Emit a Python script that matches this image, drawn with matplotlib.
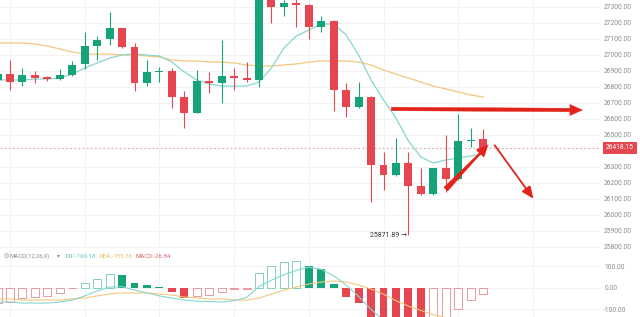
import numpy as np
import matplotlib
matplotlib.use("Agg")
import matplotlib.pyplot as plt
from matplotlib.transforms import blended_transform_factory

plt.rcParams['font.family'] = ['Roboto', 'DejaVu Sans']

# ---- candle data (index -1 is the partially visible first bar) ----
idx = list(range(-1, 39))
opens = [26842, 26879, 26829, 26873, 26861, 26848, 26873, 26942, 27054, 27098,
         27167, 27048, 26823, 26892, 26898, 26736, 26636, 26836, 26823, 26867,
         26854, 26842, 27340, 27298, 27323, 27311, 27173, 27211, 26779, 26673,
         26736, 26311, 26248, 26323, 26179, 26129, 26292, 26223, 26461, 26473]
highs = [26904, 26967, 26917, 26898, 26867, 26911, 26961, 27142, 27117, 27267,
         27170, 27073, 26967, 26923, 26917, 26773, 26904, 26892, 27092, 26917,
         26954, 27380, 27380, 27345, 27350, 27315, 27242, 27215, 26823, 26829,
         26740, 26392, 26479, 26392, 26292, 26295, 26498, 26629, 26542, 26536]
lows = [26817, 26779, 26804, 26823, 26836, 26842, 26867, 26911, 26967, 27061,
        27045, 26773, 26804, 26829, 26667, 26542, 26636, 26761, 26698, 26779,
        26829, 26798, 27198, 27242, 27173, 27098, 27142, 26648, 26611, 26670,
        26079, 26154, 26245, 25871.89, 26125, 26125, 26142, 26220, 26423, 26415]
closes = [26879, 26829, 26873, 26854, 26848, 26873, 26936, 27054, 27092, 27167,
          27048, 26823, 26892, 26898, 26736, 26636, 26836, 26823, 26867, 26854,
          26842, 27340, 27298, 27323, 27311, 27173, 27211, 26779, 26673, 26736,
          26311, 26248, 26323, 26179, 26129, 26292, 26223, 26461, 26467, 26418.15]

ma_fast = [26842, 26842, 26842, 26848, 26848, 26854, 26879, 26917, 26948, 26979,
           26998, 27004, 26998, 26992, 26954, 26892, 26842, 26817, 26804, 26804,
           26804, 26829, 26917, 27042, 27117, 27154, 27192, 27192, 27123, 26998,
           26842, 26717, 26604, 26461, 26361, 26323, 26342, 26354, 26367, 26379]
ma_slow = [27073, 27073, 27073, 27067, 27054, 27036, 27017, 27004, 27004, 27004,
           26998, 26998, 26992, 26986, 26967, 26961, 26961, 26954, 26954, 26948,
           26936, 26929, 26929, 26936, 26942, 26954, 26961, 26961, 26961, 26954,
           26936, 26904, 26879, 26854, 26829, 26804, 26786, 26767, 26748, 26736]

# ---- MACD(12,26,9) ----
macd_hist = [-70, -65, -49, -41, -37, -26, -3, 20, 40, 63,
             58, 23, 12, 4, -21, -49, -38, -34, -18, -7,
             -5, 66, 99, 120, 123, 100, 86, 16, -41, -72,
             -150, -185, -205, -225, -235, -200, -150, -97, -55, -26.84]
dif = [-66, -66, -71, -71, -71, -66, -57, -38, -15, 3,
       5, -11, -24, -38, -48, -57, -62, -64, -66, -60,
       -45, 5, 35, 60, 80, 95, 85, 55, 12, -40,
       -100, -150, -195, -235, -262, -268, -255, -222, -192, -169.18]
dea = [-52, -52, -57, -57, -57, -57, -52, -48, -38, -29,
       -24, -24, -24, -29, -34, -43, -48, -52, -52, -57,
       -57, -48, -29, -11, 3, 17, 26, 31, 26, 12,
       -6, -30, -60, -85, -105, -125, -138, -148, -153, -155.76]

price_ticks = [27300, 27200, 27100, 27000, 26900, 26800, 26700, 26600, 26500,
               26300, 26200, 26100, 26000, 25900, 25800]
macd_ticks = [100, 0, -100]
last_price = 26418.15
low_price = 25871.89

GREEN = '#16a37a'
RED = '#e5464f'
TEAL = '#86d6d0'
ORANGE = '#f4c77c'
ARROW = '#e2231a'
TXT = '#8a8a8a'

W, H = 640, 317
fig = plt.figure(figsize=(W / 100, H / 100), dpi=100)
fig.patch.set_facecolor('white')

x_left, x_right = -10 / 12.45, 590 / 12.45
ax = fig.add_axes([0, (H - 248) / H, 600 / W, 248 / H])
axm = fig.add_axes([0, 0, 600 / W, (H - 250) / H])

x = np.array(idx, dtype=float)
o = np.array(opens, dtype=float)
c = np.array(closes, dtype=float)
hi = np.array(highs, dtype=float)
lo = np.array(lows, dtype=float)
up = c >= o
cols = np.where(up, GREEN, RED)

for a in (ax, axm):
    a.set_xlim(x_left, x_right)
    for s in a.spines.values():
        s.set_visible(False)
    a.yaxis.tick_right()
    a.tick_params(axis='y', length=0, pad=3, labelsize=4.8, labelcolor=TXT)
    a.tick_params(axis='x', length=0, labelbottom=False)
    a.set_xticks(np.arange(0, 48, 6))
    a.grid(True, color='#f2f2f2', lw=0.7)
    a.set_axisbelow(True)

ax.set_ylim(25791.9, 27341.9)
ax.set_yticks(price_ticks)
ax.set_yticklabels([f"{t:.2f}" for t in price_ticks])

# moving averages
ax.plot(x, ma_slow, color=ORANGE, lw=0.9, zorder=2)
ax.plot(x, ma_fast, color=TEAL, lw=0.9, zorder=2)

# candles
ax.vlines(x, lo, hi, colors=cols, lw=0.8, zorder=3)
body = c - o
body = np.where(np.abs(body) < 8, np.where(up, 8, -8), body)
ax.bar(x, body, bottom=o, width=0.64, color=cols, zorder=4, linewidth=0)

# last price line + tag
ax.axhline(last_price, color='#e0a3a3', lw=0.8, ls=(0, (1.5, 2.2)), zorder=1)
tr = blended_transform_factory(ax.transAxes, ax.transData)
ax.text(1.01, last_price, f"{last_price:.2f}", transform=tr, ha='left', va='center',
        fontsize=4.8, color='white', zorder=10, clip_on=False,
        bbox=dict(boxstyle='square,pad=0.4', fc=RED, ec='none'))

# lowest price marker
ax.annotate(f"{low_price:.2f} \u2192", xy=(32 - 0.15, low_price), ha='right', va='center',
            fontsize=5, color='#333333', zorder=6)

# trend arrows
ax.annotate('', xy=(46.2, 26654), xytext=(30.4, 26661),
            arrowprops=dict(arrowstyle='simple,head_length=0.9,head_width=0.8,tail_width=0.25',
                            fc=ARROW, ec=ARROW, lw=0.3), zorder=7, annotation_clip=False)
ax.annotate('', xy=(38.55, 26448), xytext=(34.86, 26148),
            arrowprops=dict(arrowstyle='wedge,tail_width=0.35,shrink_factor=0.5',
                            fc=ARROW, ec=ARROW, lw=0.6), zorder=7)
ax.annotate('', xy=(38.55, 26448), xytext=(36.5, 26280),
            arrowprops=dict(arrowstyle='-|>,head_length=0.6,head_width=0.3',
                            fc=ARROW, ec=ARROW, lw=1.6), zorder=7)
ax.annotate('', xy=(42.17, 26086), xytext=(38.8, 26448),
            arrowprops=dict(arrowstyle='-|>,head_length=0.7,head_width=0.3',
                            fc=ARROW, ec=ARROW, lw=1.3), zorder=7)

# ---- MACD panel ----
axm.set_ylim(-135.3, 174.1)
axm.set_yticks(macd_ticks)
axm.set_yticklabels([f"{t:.2f}" for t in macd_ticks])
hv = np.array(macd_hist, dtype=float)
prev = np.concatenate([[-np.inf], hv[:-1]])
hollow = hv > prev
hcol = np.where(hv >= 0, GREEN, RED)
for xi, v, hc, hol in zip(x, hv, hcol, hollow):
    if hol:
        edge = '#7fd0c0' if v >= 0 else '#e79a9f'
        axm.bar(xi, v, width=0.64, facecolor='white', edgecolor=edge, lw=0.7, zorder=3)
    else:
        axm.bar(xi, v, width=0.64, color=hc, lw=0, zorder=3)
axm.plot(x, dea, color=ORANGE, lw=0.8, zorder=4)
axm.plot(x, dif, color=TEAL, lw=0.8, zorder=4)

# MACD header line
yt = 1 - 256 / H
fs = 4.3
fig.text(4 / W, yt, "\u25ce", fontsize=fs, color=TXT, va='center',
         family=['DejaVu Sans'])
fig.text(10 / W, yt, "MACD(12,26,9)", fontsize=fs, color=TXT, va='center')
fig.text(57 / W, yt, "\u25be", fontsize=fs, color=TXT, va='center',
         family=['DejaVu Sans'])
fig.text(66 / W, yt, f"DIF:{dif[-1]:.2f}", fontsize=fs, color='#5cc5bd', va='center')
fig.text(99 / W, yt, f"DEA:{dea[-1]:.2f}", fontsize=fs, color='#efb850', va='center')
fig.text(135 / W, yt, f"MACD:{macd_hist[-1]:.2f}", fontsize=fs, color='#d9606a', va='center')

fig.savefig('out.png', dpi=100, facecolor='white')
